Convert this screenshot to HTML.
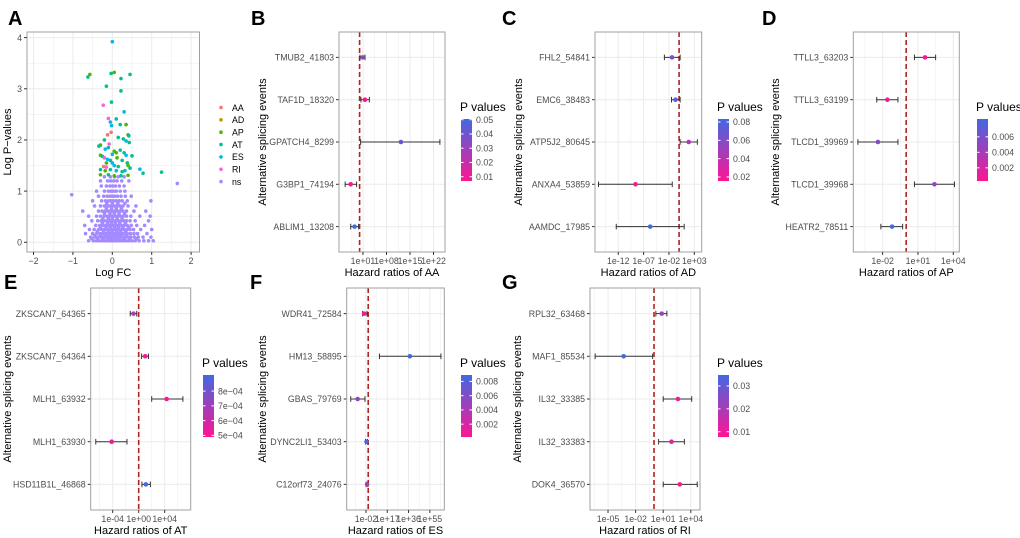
<!DOCTYPE html>
<html><head><meta charset="utf-8">
<style>
html,body{margin:0;padding:0;background:#fff;}
svg{display:block;font-family:"Liberation Sans",Arial,sans-serif;}
.tk{font-size:8.8px;fill:#4d4d4d;}
.ttl{font-size:11px;fill:#000;}
.ltl{font-size:12px;fill:#000;}
.let{font-size:20px;font-weight:bold;fill:#000;}
</style></head>
<body>
<svg id="fig" width="1020" height="538" viewBox="0 0 1020 538" xmlns="http://www.w3.org/2000/svg">
<defs>
<linearGradient id="pgrad" x1="0" y1="1" x2="0" y2="0">
<stop offset="0" stop-color="#FF1493"/><stop offset="1" stop-color="#4169E1"/>
</linearGradient>
</defs>
</svg>
<script>
// ---------- Panel A data ----------
const aTypes = ["AA","AD","AP","AT","ES","RI","ns"];
const aColors = ["#F8766D","#C49A00","#53B400","#00C094","#00B6EB","#FB61D7","#A58AFF"];
const nsRows = [
 [0.03,[-0.6,-0.48,-0.4,-0.33,-0.26,-0.2,-0.14,-0.09,-0.04,0.01,0.06,0.11,0.16,0.22,0.28,0.35,0.42,0.5,0.58,0.68,0.8,0.92,1.04]],
 [0.07,[-0.52,-0.37,-0.23,-0.12,-0.02,0.08,0.18,0.29,0.44,0.62]],
 [0.1,[-0.55,-0.44,-0.36,-0.28,-0.21,-0.15,-0.1,-0.05,0,0.05,0.1,0.15,0.2,0.26,0.33,0.4,0.47,0.56,0.66,0.78,0.98]],
 [0.13,[-0.45,-0.3,-0.18,-0.08,0.02,0.12,0.23,0.36]],
 [0.17,[-0.68,-0.5,-0.4,-0.31,-0.24,-0.17,-0.11,-0.06,-0.01,0.04,0.09,0.14,0.19,0.25,0.31,0.38,0.46,0.55,0.64,0.88]],
 [0.21,[-0.38,-0.22,-0.1,0.0,0.11,0.21,0.34]],
 [0.25,[-0.58,-0.46,-0.35,-0.27,-0.2,-0.13,-0.07,-0.02,0.03,0.08,0.13,0.18,0.24,0.3,0.37,0.45,0.54,0.72,1.0]],
 [0.29,[-0.3,-0.16,-0.05,0.06,0.16,0.27,0.42]],
 [0.33,[-0.7,-0.42,-0.32,-0.24,-0.17,-0.1,-0.04,0.01,0.06,0.11,0.17,0.23,0.3,0.38,0.48,0.62,0.82]],
 [0.37,[-0.25,-0.12,-0.02,0.08,0.19,0.33]],
 [0.42,[-0.52,-0.37,-0.28,-0.2,-0.13,-0.07,-0.01,0.04,0.1,0.16,0.22,0.29,0.36,0.45,0.58,0.92]],
 [0.46,[-0.24,-0.1,0.0,0.12,0.25]],
 [0.51,[-0.6,-0.4,-0.3,-0.21,-0.14,-0.08,-0.02,0.03,0.09,0.15,0.21,0.28,0.36,0.47,0.7,0.96]],
 [0.56,[-0.2,-0.06,0.05,0.17,0.31]],
 [0.61,[-0.75,-0.35,-0.26,-0.18,-0.11,-0.05,0.01,0.07,0.13,0.2,0.27,0.36,0.55,0.85]],
 [0.66,[-0.15,-0.02,0.1,0.23]],
 [0.71,[-0.45,-0.3,-0.2,-0.12,-0.06,0,0.06,0.12,0.19,0.27,0.4,0.6]],
 [0.76,[-0.14,0.0,0.14,0.32]],
 [0.81,[-0.5,-0.27,-0.17,-0.09,-0.03,0.03,0.1,0.17,0.25,0.38,0.98]],
 [0.9,[-0.35,-0.22,-0.13,-0.06,0,0.06,0.13,0.22,0.33,0.48]],
 [0.93,[-1.03]],
 [1.0,[-0.4,-0.2,-0.1,-0.03,0.03,0.1,0.2,0.32]],
 [1.1,[-0.28,-0.15,-0.06,0.01,0.08,0.18,0.3]],
 [1.15,[1.65]],
 [1.2,[-0.3,-0.12,-0.04,0.04,0.12,0.24,0.42]],
 [1.28,[-0.2,-0.05,0.06,0.15,0.3]]
];
const sigType = ["ES","AP","AT","AT","AP","AT","AT","AT","AT","AT","RI","ES","RI","AT","ES","ES","AP","AT","AA","AA","AP","AT","AT","AT","AT","AP","AT","ES","AT","RI","ES","AT","AP","AP","ES","AT","AT","AP","AT","RI","ES","AT","AP","ES","AT","AT","AP","ES","AT","AA","RI","ES","AT","AP","AT","AT","AP","ES","AT","ES","AT","AT","AP","AT","AP","AT","AP","ES","AT"];
const sigFC = [0,-0.57,-0.62,-0.03,0.05,0.45,-0.15,0.22,0.22,-0.02,-0.23,0.3,-0.1,0.1,-0.05,-0.02,0.35,0.2,-0.12,-0.03,0.4,0.42,0.15,0.28,-0.2,-0.3,-0.34,0.35,0.43,-0.08,-0.18,-0.1,0.05,0.1,0.0,0.2,0.3,-0.3,-0.25,-0.2,0.35,0.5,0.12,-0.12,-0.05,0.25,-0.15,0.0,0.38,-0.22,-0.15,0.05,0.15,0.4,0.45,-0.3,-0.18,0.1,0.25,0.7,0.78,1.25,-0.3,-0.1,0.05,0.22,0.4,0.32,-0.05];
const sigLogP = [3.92,3.28,3.23,3.3,3.32,3.28,3.05,3.2,2.96,2.74,2.68,2.55,2.42,2.41,2.35,2.28,2.3,2.3,2.1,2.15,2.1,2.08,2.05,2.02,2.0,1.9,1.88,1.98,1.95,1.92,1.82,1.85,1.78,1.75,1.72,1.8,1.75,1.7,1.68,1.65,1.7,1.69,1.65,1.62,1.6,1.6,1.55,1.55,1.55,1.48,1.47,1.5,1.48,1.5,1.45,1.42,1.4,1.4,1.38,1.43,1.35,1.37,1.32,1.32,1.3,1.3,1.31,1.4,1.42];
const aXTicks = [-2,-1,0,1,2];
const aYTicks = [0,1,2,3,4];

// ---------- Forest panels data (log10 hazard ratios) ----------
const bEvents = ["TMUB2_41803","TAF1D_18320","GPATCH4_8299","G3BP1_74194","ABLIM1_13208"];
const bLogHR = [0.9,1.6,12.3,-2.65,-1.5];
const bLogLow = [0.1,0.4,0.3,-4.3,-2.65];
const bLogHigh = [1.6,2.9,23.9,-0.9,-0.3];
const bP = [0.035,0.007,0.04,0.009,0.0505];
const bTicks = [1,8,15,22];
const bPTicks = [0.01,0.02,0.03,0.04,0.05];

const cEvents = ["FHL2_54841","EMC6_38483","ATP5J2_80645","ANXA4_53859","AAMDC_17985"];
const cLogHR = [-1.4,-0.7,1.9,-8.6,-5.7];
const cLogLow = [-2.9,-1.5,0.2,-15.9,-12.4];
const cLogHigh = [0.2,0.2,3.6,-1.35,1.0];
const cP = [0.06,0.075,0.045,0.0156,0.0833];
const cTicks = [-12,-7,-2,3];
const cPTicks = [0.02,0.04,0.06,0.08];

const dEvents = ["TTLL3_63203","TTLL3_63199","TLCD1_39969","TLCD1_39968","HEATR2_78511"];
const dLogHR = [1.6,-1.6,-2.4,2.4,-1.2];
const dLogLow = [0.7,-2.5,-4.1,0.7,-2.15];
const dLogHigh = [2.5,-0.7,-0.7,4.1,-0.3];
const dP = [0.0003,0.001,0.0055,0.005,0.0083];
const dTicks = [-2,1,4];
const dPTicks = [0.002,0.004,0.006];

const eEvents = ["ZKSCAN7_64365","ZKSCAN7_64364","MLH1_63932","MLH1_63930","HSD11B1L_46868"];
const eLogHR = [-0.8,1.0,4.3,-4.15,1.1];
const eLogLow = [-1.3,0.45,2.0,-6.6,0.5];
const eLogHigh = [-0.3,1.5,6.8,-1.8,1.8];
const eP = [0.00068,0.00052,0.000489,0.00053,0.000909];
const eTicks = [-4,0,4];
const ePTicks = [0.0005,0.0006,0.0007,0.0008];

const fEvents = ["WDR41_72584","HM13_58895","GBAS_79769","DYNC2LI1_53403","C12orf73_24076"];
const fLogHR = [-3.5,37.2,-9.4,-1.5,-1.0];
const fLogHigh = [-1.0,64.9,-2.9,-0.6,-0.2];
const fLogLow = [-5.0,10.0,-15.6,-2.4,-1.8];
const fP = [0.0002,0.0089,0.005,0.0085,0.004];
const fTicks = [-2,17,36,55];
const fPTicks = [0.002,0.004,0.006,0.008];

const gEvents = ["RPL32_63468","MAF1_85534","IL32_33385","IL32_33383","DOK4_36570"];
const gLogHR = [0.84,-3.3,2.6,1.9,2.8];
const gLogLow = [0.2,-6.4,1.0,0.5,1.0];
const gLogHigh = [1.4,-0.15,4.1,3.3,4.7];
const gP = [0.022,0.0348,0.009,0.012,0.0077];
const gTicks = [-5,-2,1,4];
const gPTicks = [0.01,0.02,0.03];

// ---------- helpers ----------
const NS="http://www.w3.org/2000/svg";
const svg=document.getElementById('fig');
function mk(tag,attrs,parent){const e=document.createElementNS(NS,tag);for(const k in attrs)e.setAttribute(k,attrs[k]);(parent||svg).appendChild(e);return e;}
function txt(s,attrs,parent){const e=mk('text',attrs,parent);e.textContent=s;return e;}
function lin(a,b,c,d){return v=>c+(v-a)*(d-c)/(b-a);}
function mixColor(t){const lo=[255,20,147],hi=[65,105,225];const c=lo.map((v,i)=>Math.round(v+(hi[i]-v)*t));return `rgb(${c[0]},${c[1]},${c[2]})`;}
function fmtExp(L){const s=L<0?'-':'+';const a=Math.abs(L);return '1e'+s+(a<10?'0':'')+a;}

function letter(ch,x,y){
 const t=txt(ch,{x:x,y:y,class:'let'});
 
 
}

// ---------- Panel A ----------
(function(){
 const g=mk('g',{});
 
 
 const x0=27,x1=199.5,y0=32,y1=252;
 const sx=lin(-2.165,2.213,x0,x1), sy=lin(-0.19,4.11,y1,y0);
 mk('rect',{x:x0,y:y0,width:x1-x0,height:y1-y0,fill:'#fff'},g);
 for(let v=-2.5;v<=2.5;v+=0.5){const X=sx(v);if(X<x0||X>x1)continue;mk('line',{x1:X,x2:X,y1:y0,y2:y1,stroke:'#ebebeb','stroke-width':Number.isInteger(v)?1:0.5},g);}
 for(let v=-0.5;v<=4.5;v+=0.5){const Y=sy(v);if(Y<y0||Y>y1)continue;mk('line',{x1:x0,x2:x1,y1:Y,y2:Y,stroke:'#ebebeb','stroke-width':Number.isInteger(v)?1:0.5},g);}
 const ns=aColors[6];
 nsRows.forEach(r=>r[1].forEach(fc=>{
  const c=mk('circle',{cx:sx(fc),cy:sy(r[0]),r:1.8,fill:ns},g);
  
  
 }));
 sigFC.forEach((fc,i)=>{
  const col=aColors[aTypes.indexOf(sigType[i])];
  const c=mk('circle',{cx:sx(fc),cy:sy(sigLogP[i]),r:1.8,fill:col},g);
  
  
 });
 mk('rect',{x:x0,y:y0,width:x1-x0,height:y1-y0,fill:'none',stroke:'#a0a0a0','stroke-width':1},g);
 aXTicks.forEach(v=>{const X=sx(v);mk('line',{x1:X,x2:X,y1:y1,y2:y1+3,stroke:'#333'},g);
  const t=txt(v<0?'\u2212'+Math.abs(v):String(v),{x:X,y:y1+12,'text-anchor':'middle',class:'tk'},g);
  });
 aYTicks.forEach(v=>{const Y=sy(v);mk('line',{x1:x0-3,x2:x0,y1:Y,y2:Y,stroke:'#333'},g);
  const t=txt(String(v),{x:x0-5,y:Y+3.2,'text-anchor':'end',class:'tk'},g);
  });
 const xt=txt('Log FC',{x:(x0+x1)/2,y:276,'text-anchor':'middle',class:'ttl'},g);
 
 const yt=txt('Log P\u2212values',{x:0,y:0,'text-anchor':'middle',class:'ttl',transform:`translate(11,${(y0+y1)/2}) rotate(-90)`},g);
 
 const lg=mk('g',{},g);
 
 
 aTypes.forEach((t,i)=>{
  const Y=107.5+i*12.35;
  const e=mk('g',{},lg);
  
  
  mk('circle',{cx:221,cy:Y,r:1.8,fill:aColors[i]},e);
  txt(t,{x:232,y:Y+3.3,class:'tk',style:'fill:#000'},e);
 });
})();

// ---------- Forest panels ----------
function forest(p){
 const g=mk('g',{});
 
 
 const {x0,x1,y0,y1}=p;
 const sx=lin(p.lo,p.hi,x0,x1);
 const n=p.events.length;
 const sy=k=>y0+(k+0.6)*(y1-y0)/(n+0.2);
 mk('rect',{x:x0,y:y0,width:x1-x0,height:y1-y0,fill:'#fff'},g);
 const tk=p.ticks, step=tk[1]-tk[0];
 for(let v=tk[0]-step/2;v<=tk[tk.length-1]+step;v+=step/2){
  const X=sx(v);if(X<x0||X>x1)continue;
  const major=tk.includes(v);
  mk('line',{x1:X,x2:X,y1:y0,y2:y1,stroke:'#ebebeb','stroke-width':major?1:0.5},g);
 }
 for(let k=0;k<n;k++){const Y=sy(k);mk('line',{x1:x0,x2:x1,y1:Y,y2:Y,stroke:'#ebebeb','stroke-width':1},g);}
 const X0=sx(0);
 const dl=mk('line',{x1:X0,x2:X0,y1:y0,y2:y1,stroke:'#B22222','stroke-width':1.6,'stroke-dasharray':'5,3'},g);
 
 
 const pmin=Math.min(...p.pv), pmax=Math.max(...p.pv);
 p.events.forEach((ev,k)=>{
  const Y=sy(k), a=sx(p.low[k]), b=sx(p.high[k]);
  const eb=mk('g',{},g);
  
  
  mk('line',{x1:a,x2:b,y1:Y,y2:Y,stroke:'#333','stroke-width':1},eb);
  mk('line',{x1:a,x2:a,y1:Y-2.8,y2:Y+2.8,stroke:'#333','stroke-width':1},eb);
  mk('line',{x1:b,x2:b,y1:Y-2.8,y2:Y+2.8,stroke:'#333','stroke-width':1},eb);
  const c=mk('circle',{cx:sx(p.hr[k]),cy:Y,r:2.3,fill:mixColor((p.pv[k]-pmin)/(pmax-pmin))},g);
  
  
  mk('line',{x1:x0-3,x2:x0,y1:Y,y2:Y,stroke:'#333'},g);
  const t=txt(ev,{x:x0-5,y:Y+3.2,'text-anchor':'end',class:'tk'},g);
  
  
 });
 mk('rect',{x:x0,y:y0,width:x1-x0,height:y1-y0,fill:'none',stroke:'#a0a0a0','stroke-width':1},g);
 tk.forEach(v=>{const X=sx(v);mk('line',{x1:X,x2:X,y1:y1,y2:y1+3,stroke:'#333'},g);
  const t=txt(fmtExp(v),{x:X,y:y1+12,'text-anchor':'middle',class:'tk'},g);
  });
 const xt=txt('Hazard ratios of '+p.type,{x:(x0+x1)/2,y:y1+24,'text-anchor':'middle',class:'ttl'},g);
 
 const yt=txt('Alternative splicing events',{x:0,y:0,'text-anchor':'middle',class:'ttl',transform:`translate(${p.ytx},${(y0+y1)/2}) rotate(-90)`},g);
 
 const cb=mk('g',{},g);
 
 
 const bx=p.cbx, by0=p.cby, by1=p.cby+62;
 const ct=txt('P values',{x:bx-1,y:by0-8,class:'ltl'},cb);
 
 mk('rect',{x:bx,y:by0,width:11,height:by1-by0,fill:'url(#pgrad)'},cb);
 const py=lin(pmin,pmax,by1,by0);
 p.pticks.forEach(v=>{const Y=py(v);
  mk('line',{x1:bx,x2:bx+2.5,y1:Y,y2:Y,stroke:'#fff'},cb);
  mk('line',{x1:bx+8.5,x2:bx+11,y1:Y,y2:Y,stroke:'#fff'},cb);
  const lab=v<0.001?(v*1e4).toFixed(0)+'e\u221204':String(+v.toFixed(3));
  const t=txt(lab,{x:bx+15,y:Y+3.2,class:'tk'},cb);
  
 });
}

letter('A',8,25);letter('B',251,25);letter('C',502,25);letter('D',762,25);
letter('E',4,289);letter('F',250,289);letter('G',502,289);

forest({key:'aa',type:'AA',events:bEvents,hr:bLogHR,low:bLogLow,high:bLogHigh,pv:bP,ticks:bTicks,pticks:bPTicks,
 x0:339,x1:445,y0:32,y1:252,lo:-6.13,hi:25.42,ytx:266,cbx:461,cby:119});
forest({key:'ad',type:'AD',events:cEvents,hr:cLogHR,low:cLogLow,high:cLogHigh,pv:cP,ticks:cTicks,pticks:cPTicks,
 x0:595,x1:701.7,y0:32,y1:252,lo:-16.59,hi:4.46,ytx:522,cbx:718,cby:119});
forest({key:'ap',type:'AP',events:dEvents,hr:dLogHR,low:dLogLow,high:dLogHigh,pv:dP,ticks:dTicks,pticks:dPTicks,
 x0:853.3,x1:959.3,y0:32,y1:252,lo:-4.49,hi:4.51,ytx:779,cbx:977,cby:119});
forest({key:'at',type:'AT',events:eEvents,hr:eLogHR,low:eLogLow,high:eLogHigh,pv:eP,ticks:eTicks,pticks:ePTicks,
 x0:90.7,x1:190.7,y0:288,y1:510,lo:-7.38,hi:8.0,ytx:11,cbx:203,cby:375});
forest({key:'es',type:'ES',events:fEvents,hr:fLogHR,low:fLogLow,high:fLogHigh,pv:fP,ticks:fTicks,pticks:fPTicks,
 x0:346.7,x1:444.3,y0:288,y1:510,lo:-19.2,hi:67.9,ytx:266,cbx:461,cby:375});
forest({key:'ri',type:'RI',events:gEvents,hr:gLogHR,low:gLogLow,high:gLogHigh,pv:gP,ticks:gTicks,pticks:gPTicks,
 x0:590,x1:700,y0:288,y1:510,lo:-6.96,hi:5.0,ytx:521,cbx:718,cby:375});
</script>
</body></html>
